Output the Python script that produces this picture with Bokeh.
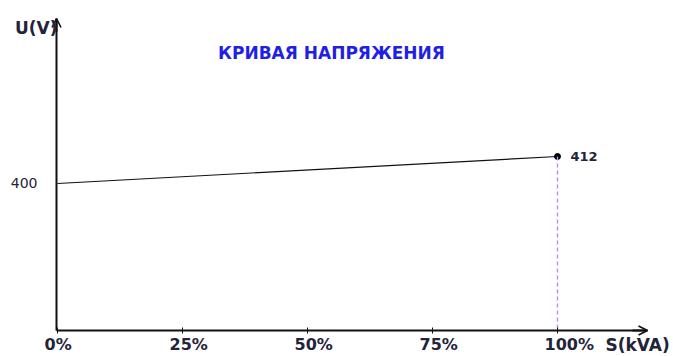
from bokeh.plotting import figure
from bokeh.models import (ColumnDataSource, Range1d, FixedTicker, LabelSet, Label,
                          Arrow, OpenHead)
from bokeh.core.properties import value
from bokeh.embed import file_html
from bokeh.resources import INLINE

# ---- data ----
load_pct = [0, 100]                 # S (kVA), % of rated load
voltage = [400, 412]                # U (V)
x_ticks = [0, 25, 50, 75, 100]
x_tick_labels = ["0%", "25%", "50%", "75%", "100%"]
y_ticks = [400]
y_tick_labels = ["400"]
end_label = ["412"]
title_text = "КРИВАЯ НАПРЯЖЕНИЯ"
x_title = "S(kVA)"
y_title = "U(V)"

# ---- layout (frame fills the canvas; axes are drawn at fixed locations) ----
AX0, AX1 = -0.2, 118.0          # x-axis extent
AY0, AY1 = 334.67, 473.33       # y-axis extent
TXT = "#23233a"
AXC = "#111111"
W, H = 673, 356

p = figure(width=W, height=H, output_backend="svg", toolbar_location=None,
           x_range=Range1d(-11.4, -11.4 + W / 5.0),
           y_range=Range1d(481.33 - H / 2.25, 481.33),
           min_border=0)
p.outline_line_color = None
p.grid.visible = False
p.background_fill_color = "white"
p.border_fill_color = "white"

xa = p.xaxis[0]
xa.fixed_location = AY0
xa.bounds = (AX0, AX1)
xa.ticker = FixedTicker(ticks=x_ticks)
xa.major_label_text_font_size = "0px"
xa.major_label_overrides = {t: "" for t in x_ticks}
xa.axis_line_width = 2
xa.axis_line_color = AXC
xa.major_tick_in = 3
xa.major_tick_out = 3
xa.major_tick_line_color = AXC
xa.minor_tick_line_color = None

ya = p.yaxis[0]
ya.fixed_location = AX0
ya.bounds = (AY0, AY1)
ya.ticker = FixedTicker(ticks=y_ticks)
ya.major_label_overrides = {t: s for t, s in zip(y_ticks, y_tick_labels)}
ya.axis_line_width = 2
ya.axis_line_color = AXC
ya.major_tick_line_color = None
ya.minor_tick_line_color = None
ya.major_tick_in = 0
ya.major_tick_out = 0
ya.major_label_standoff = 19
ya.major_label_text_font = "DejaVu Sans"
ya.major_label_text_font_size = "14px"
ya.major_label_text_color = TXT

# arrowheads on axes
p.add_layout(Arrow(end=OpenHead(size=9, line_width=1.6, line_color=AXC),
                   x_start=AX1 - 3, y_start=AY0, x_end=AX1, y_end=AY0,
                   line_width=2, line_color=AXC))
p.add_layout(Arrow(end=OpenHead(size=9, line_width=1.6, line_color=AXC),
                   x_start=AX0, y_start=AY1 - 6, x_end=AX0, y_end=AY1,
                   line_width=2, line_color=AXC))

# voltage curve
p.line(load_pct, voltage, line_color="#111111", line_width=1.2)
p.scatter([load_pct[-1]], [voltage[-1]], size=6, color="#000000")
p.segment(x0=[load_pct[-1]], y0=[voltage[-1]], x1=[load_pct[-1]], y1=[AY0],
          line_color="#c38cf0", line_width=1.4, line_dash="4 3")

# end value label
p.add_layout(Label(x=load_pct[-1], y=voltage[-1], text=end_label[0], x_offset=13,
                   text_baseline="middle", text_align="left",
                   text_font="DejaVu Sans", text_font_style="bold",
                   text_font_size="13px", text_color=TXT))

# x tick labels
tick_src = ColumnDataSource(dict(x=x_ticks, y=[AY0] * len(x_ticks), t=x_tick_labels))
p.add_layout(LabelSet(x="x", y="y", text="t", source=tick_src, x_offset=-13,
                      y_offset=-14.5, text_align=value("left"),
                      text_baseline=value("middle"),
                      text_font=value("DejaVu Sans"), text_font_style=value("bold"),
                      text_font_size=value("16px"), text_color=value(TXT)))

# axis titles
p.add_layout(Label(x=AX1, y=AY0, text=x_title, x_offset=-42, y_offset=-14.5,
                   text_align="left", text_baseline="middle",
                   text_font="DejaVu Sans", text_font_style="bold",
                   text_font_size="17px", text_color=TXT))
p.add_layout(Label(x=AX0, y=AY1, text=y_title, x_offset=1, y_offset=-9,
                   text_align="right", text_baseline="middle",
                   text_font="DejaVu Sans", text_font_style="bold",
                   text_font_size="17px", text_color=TXT))

# chart title
p.add_layout(Label(x=54.8, y=457.8, text=title_text, text_align="center",
                   text_baseline="middle", text_font="DejaVu Sans",
                   text_font_style="bold", text_font_size="17px",
                   text_color="#1f1fe6"))

open("out.html", "w").write(file_html(p, INLINE))
